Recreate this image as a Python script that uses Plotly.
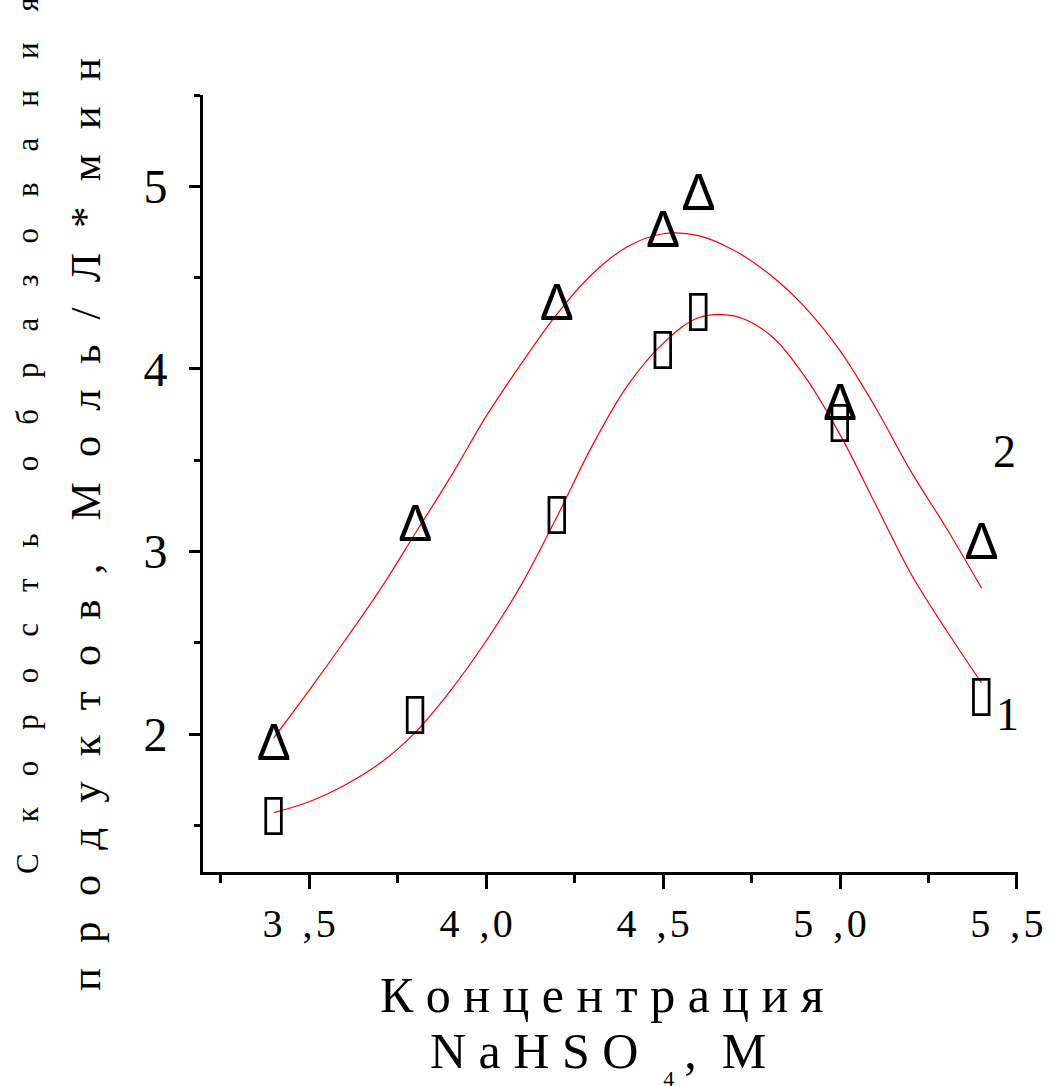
import plotly.graph_objects as go

# ---------------- data ----------------
conc = [3.4, 3.8, 4.2, 4.5, 4.6, 5.0, 5.4]
rate1 = [1.55, 2.10, 3.20, 4.10, 4.31, 3.70, 2.20]   # series 1 (squares)
rate2 = [1.93, 3.13, 4.34, 4.74, 4.94, 3.79, 3.03]   # series 2 (triangles)

# fitted curves
fit_x = [3.4, 3.5, 3.6, 3.7, 3.8, 3.9, 4.0, 4.1, 4.2, 4.3, 4.4,
         4.5, 4.6, 4.7, 4.8, 4.9, 5.0, 5.1, 5.2, 5.3, 5.4]
fit1_y = [1.57, 1.63, 1.72, 1.84, 2.01, 2.24, 2.51, 2.82, 3.19, 3.58, 3.91,
          4.14, 4.28, 4.29, 4.19, 3.96, 3.64, 3.26, 2.88, 2.57, 2.28]
fit2_y = [1.98, 2.24, 2.51, 2.79, 3.10, 3.41, 3.74, 4.03, 4.30, 4.52, 4.67,
          4.74, 4.73, 4.65, 4.52, 4.34, 4.10, 3.79, 3.44, 3.13, 2.80]

x_tickvals = [3.5, 4.0, 4.5, 5.0, 5.5]
x_ticktext = ["3\u2002,\u200a5\u2002", "4\u2002,\u200a0\u2002", "4\u2002,\u200a5\u2002",
              "5\u2002,\u200a0\u2002", "5\u2002,\u200a5\u2002"]
y_tickvals = [2, 3, 4, 5]
y_ticktext = ["2", "3", "4", "5"]

curve_labels = ["1", "2"]
label_x = [5.473, 5.465]
label_y = [2.11, 3.55]

# ---------------- layout helpers ----------------
W, H = 1054, 1086
ML, MR, MT, MB = 203, 36, 95, 214
PW, PH = W - ML - MR, H - MT - MB


def px_to_paper_x(px):
    return (px - ML) / PW


def px_to_paper_y(py):
    return (H - MB - py) / PH


def spaced(words, sep, wsep):
    return wsep.join(sep.join(w) for w in words)


serif = "Liberation Serif, Times New Roman, serif"

fig = go.Figure()

for fy in (fit2_y, fit1_y):
    fig.add_trace(go.Scatter(x=fit_x, y=fy, mode="lines",
                             line=dict(color="#ff0000", width=1.2, shape="spline", smoothing=1.0),
                             hoverinfo="skip", showlegend=False))

fig.add_trace(go.Scatter(x=conc, y=rate1, mode="text", text=["\u25af"] * len(conc),
                         textposition="middle center",
                         textfont=dict(family="DejaVu Sans", size=50, color="black"),
                         showlegend=False, cliponaxis=False))
fig.add_trace(go.Scatter(x=conc, y=rate2, mode="text", text=["\u0394"] * len(conc),
                         textposition="middle center",
                         textfont=dict(family="Liberation Sans Narrow, Liberation Sans", size=51,
                                       color="black"),
                         showlegend=False, cliponaxis=False))

for t, lx, ly in zip(curve_labels, label_x, label_y):
    fig.add_annotation(x=lx, y=ly, xref="x", yref="y", text=t, showarrow=False,
                       font=dict(family=serif, size=46, color="black"),
                       xanchor="center", yanchor="middle")

# y-axis title (two rotated lines)
line1 = spaced(["Скорость", "образования"], "\u2003", "\u2003\u2003")
line2 = spaced(["продуктов,", "Моль/Л*мин"], "\u2002\u200a", "\u2002\u2002")
fig.add_annotation(x=px_to_paper_x(27.5), y=px_to_paper_y(876), xref="paper", yref="paper",
                   text=line1, textangle=-90, showarrow=False,
                   font=dict(family=serif, size=31, color="black"),
                   xanchor="center", yanchor="bottom")
fig.add_annotation(x=px_to_paper_x(85.5), y=px_to_paper_y(993), xref="paper", yref="paper",
                   text=line2, textangle=-90, showarrow=False,
                   font=dict(family=serif, size=43, color="black"),
                   xanchor="center", yanchor="bottom")

# x-axis title (two lines)
fig.add_annotation(x=px_to_paper_x(378), y=px_to_paper_y(965), xref="paper", yref="paper",
                   text="К о н ц е н т р а ц и я", showarrow=False,
                   font=dict(family=serif, size=50, color="black"),
                   xanchor="left", yanchor="top")
fig.add_annotation(x=px_to_paper_x(428), y=px_to_paper_y(1021), xref="paper", yref="paper",
                   text=("N a H S O\u2002<sub><sub><span style='font-size:22px'>4</span>"
                         "</sub></sub>\u2009,\u2002M"),
                   showarrow=False,
                   font=dict(family=serif, size=50, color="black"),
                   xanchor="left", yanchor="top")

fig.update_layout(
    width=W, height=H, autosize=False,
    margin=dict(l=ML, r=MR, t=MT, b=MB, pad=0, autoexpand=False),
    paper_bgcolor="white", plot_bgcolor="white",
    showlegend=False,
    xaxis=dict(range=[3.2, 5.503], showgrid=False, zeroline=False, automargin=False,
               showline=True, linecolor="black", linewidth=3,
               ticks="outside", ticklen=14, tickwidth=2.5, tickcolor="black",
               tickvals=x_tickvals, ticktext=x_ticktext,
               tickfont=dict(family=serif, size=40, color="black"),
               ticklabelstandoff=0, ticklabeloverflow="allow",
               minor=dict(ticks="outside", ticklen=8, tickwidth=2.5, tickcolor="black",
                          dtick=0.25, tick0=3.25)),
    yaxis=dict(range=[1.245, 5.5], showgrid=False, zeroline=False, automargin=False,
               showline=True, linecolor="black", linewidth=3,
               ticks="outside", ticklen=11, tickwidth=2.5, tickcolor="black",
               tickvals=y_tickvals, ticktext=y_ticktext,
               tickfont=dict(family=serif, size=48, color="black"),
               ticklabelstandoff=12,
               minor=dict(ticks="outside", ticklen=6, tickwidth=2.5, tickcolor="black",
                          dtick=0.5, tick0=1.5)),
)

fig.write_html("out.html")
